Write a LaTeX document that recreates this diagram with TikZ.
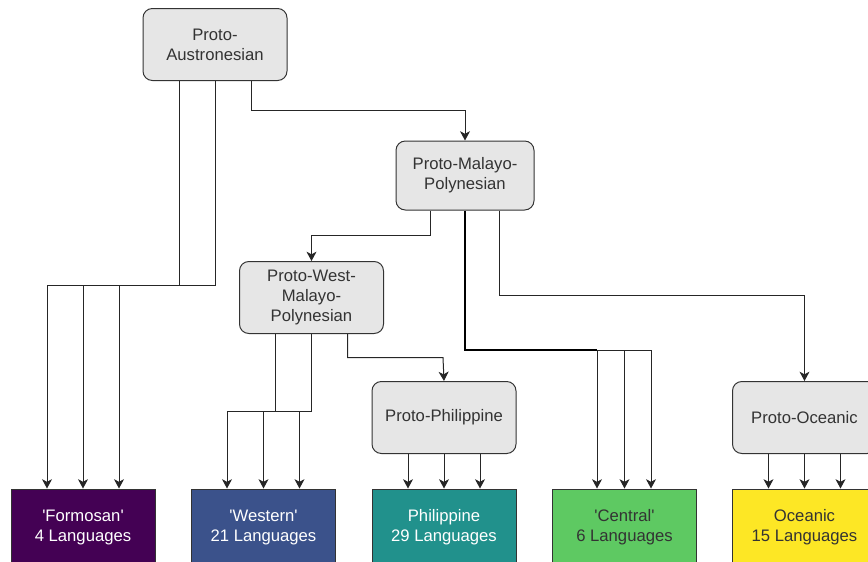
\documentclass[tikz,border=0pt]{standalone}
\usepackage{fontspec}
\setmainfont{Liberation Sans}
\usetikzlibrary{arrows.meta,calc}
\definecolor{grayfill}{HTML}{E6E6E6}
\definecolor{edge}{HTML}{333333}
\definecolor{txt}{HTML}{333333}
\definecolor{cF}{HTML}{440154}
\definecolor{cW}{HTML}{3B528B}
\definecolor{cP}{HTML}{21918C}
\definecolor{cC}{HTML}{5EC962}
\definecolor{cO}{HTML}{FDE725}
\tikzset{
  protobox/.style={draw=edge, line width=0.75pt, fill=grayfill, rounded corners=7pt,
    minimum width=108pt, minimum height=54pt, inner sep=0pt, align=center,
    text=txt, font=\fontsize{12.5}{15}\selectfont},
  langbox/.style={draw=edge, line width=0.75pt, minimum width=108pt, minimum height=57pt,
    inner sep=0pt, align=center, font=\fontsize{12.5}{15}\selectfont},
  wire/.style={draw=black!85, line width=0.75pt},
  thickwire/.style={draw=black, line width=1.5pt},
  arr/.style={wire, -{Stealth[length=7pt,width=7.5pt,inset=2pt]}}
}
\begin{document}
\begin{tikzpicture}[x=0.75pt,y=-0.75pt]
\useasboundingbox (0,0) rectangle (868,561);
\clip (0,0) rectangle (868,561);
% proto nodes
\node[protobox] (PA) at (215,44.5) {Proto-\\Austronesian};
\node[protobox, minimum width=103.5pt, minimum height=51.75pt] (PMP) at (465,175.5) {Proto-Malayo-\\Polynesian};
\node[protobox] (PWMP) at (311.5,297.5) {Proto-West-\\Malayo-\\Polynesian};
\node[protobox] (PP) at (444,417.5) {Proto-Philippine};
\node[protobox] (PO) at (804.5,417.5) {Proto-Oceanic};
% language nodes
\node[langbox, fill=cF, text=white] (F) at (83,527) {\textquotesingle Formosan\textquotesingle\\4 Languages};
\node[langbox, fill=cW, text=white] (W) at (263.5,527) {\textquotesingle Western\textquotesingle\\21 Languages};
\node[langbox, fill=cP, text=white] (P) at (444,527) {Philippine\\29 Languages};
\node[langbox, fill=cC, text=txt] (C) at (624.5,527) {\textquotesingle Central\textquotesingle\\6 Languages};
\node[langbox, fill=cO, text=txt] (O) at (804.5,527) {Oceanic\\15 Languages};
% connector start points and junctions
\coordinate (paL) at ($(PA.south)+(-36,0)$);
\coordinate (paR) at ($(PA.south)+(36,0)$);
\coordinate (pmpL) at ($(PMP.south)+(-34.5,0)$);
\coordinate (pmpR) at ($(PMP.south)+(34.5,0)$);
\coordinate (pwL) at ($(PWMP.south)+(-36,0)$);
\coordinate (pwR) at ($(PWMP.south)+(36,0)$);
\coordinate (jF1) at (47,285);
\coordinate (jF2) at (83,285);
\coordinate (jF3) at (119,285);
\coordinate (jFa) at (179,285);
\coordinate (jFb) at (215,285);
\coordinate (jW1) at (227,411.5);
\coordinate (jW2) at (263.5,411.5);
\coordinate (jW3) at (299.5,411.5);
\coordinate (jWa) at (275.5,411.5);
\coordinate (jWb) at (311.5,411.5);
\coordinate (jC0) at (465,350);
\coordinate (jC1) at (597,350);
\coordinate (jC2) at (624.5,350);
\coordinate (jC3) at (651,350);
% Proto-Austronesian -> Formosan
\draw[wire] (paL) -- (jFa);
\draw[wire] (PA.south) -- (jFb) -- (jF1);
\draw[arr] (jF1) -- ($(F.north)+(-36,0)$);
\draw[arr] (jF2) -- (F.north);
\draw[arr] (jF3) -- ($(F.north)+(36,0)$);
% Proto-Austronesian -> PMP
\draw[arr] (paR) |- (465,110.5) -- (PMP.north);
% PMP -> PWMP
\draw[arr] (pmpL) |- (311.5,235.5) -- (PWMP.north);
% PMP -> Central
\draw[thickwire] (PMP.south) -- (jC0) -- (jC1);
\draw[wire] (jC1) -- (jC3);
\draw[arr] (jC1) -- ($(C.north)+(-27.5,0)$);
\draw[arr] (jC2) -- (C.north);
\draw[arr] (jC3) -- ($(C.north)+(26.5,0)$);
% PMP -> Proto-Oceanic
\draw[arr] (pmpR) |- (804.5,295.5) -- (PO.north);
% PWMP -> Western
\draw[wire] (pwL) -- (jWa);
\draw[wire] (PWMP.south) -- (jWb) -- (jW1);
\draw[arr] (jW1) -- ($(W.north)+(-36.5,0)$);
\draw[arr] (jW2) -- (W.north);
\draw[arr] (jW3) -- ($(W.north)+(36,0)$);
% PWMP -> Proto-Philippine
\draw[arr] (pwR) |- (443,357.5) -- (PP.north);
% Proto-Philippine -> Philippine
\draw[arr] ($(PP.south)+(-36,0)$) -- ($(P.north)+(-36,0)$);
\draw[arr] (PP.south) -- (P.north);
\draw[arr] ($(PP.south)+(36,0)$) -- ($(P.north)+(36,0)$);
% Proto-Oceanic -> Oceanic
\draw[arr] ($(PO.south)+(-36,0)$) -- ($(O.north)+(-36,0)$);
\draw[arr] (PO.south) -- (O.north);
\draw[arr] ($(PO.south)+(36,0)$) -- ($(O.north)+(36,0)$);
\end{tikzpicture}
\end{document}
